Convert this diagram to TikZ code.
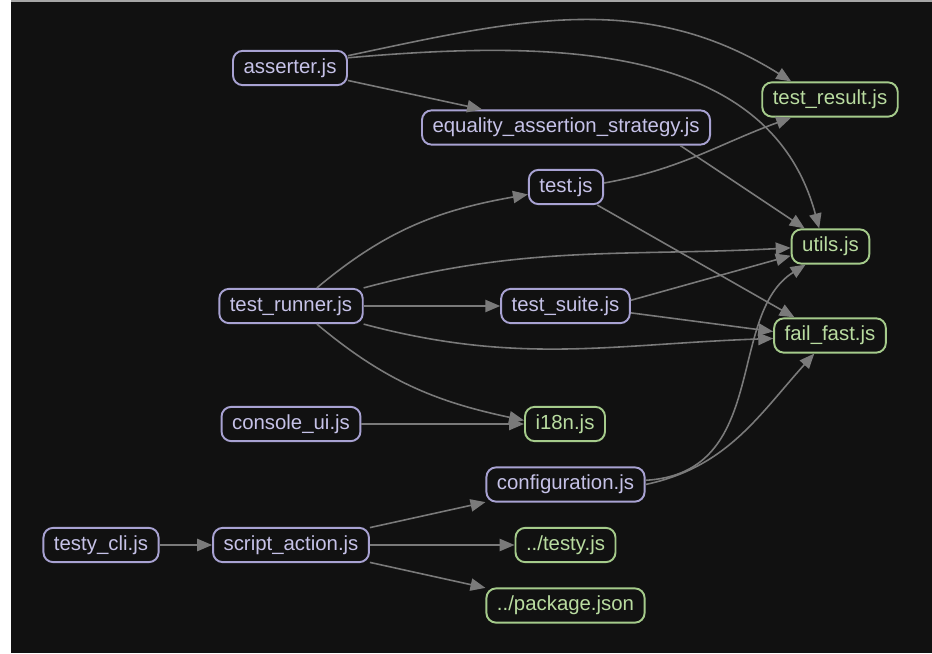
\documentclass[tikz,border=0pt]{standalone}
\usepackage{fontspec}
\setmainfont{Liberation Sans}
\usetikzlibrary{arrows.meta}
\definecolor{bgdark}{HTML}{111111}
\definecolor{modline}{HTML}{A8A2D2}
\definecolor{modtext}{HTML}{C6C2E8}
\definecolor{extline}{HTML}{A5CB8B}
\definecolor{exttext}{HTML}{B9DCA0}
\definecolor{edgegray}{HTML}{7A7A7A}

\begin{document}
\begin{tikzpicture}[x=0.02cm, y=0.02cm,
    module/.style={draw=modline, text=modtext, fill=bgdark, line width=1.1pt,
        rounded corners=5.5pt, inner xsep=6pt, inner ysep=0pt, minimum height=19.5pt,
        text height=8.6pt, text depth=2.4pt, font=\fontsize{11.6}{14}\selectfont},
    extern/.style={module, draw=extline, text=exttext},
    dep/.style={draw=edgegray, line width=0.9pt, -{Triangle[length=8.5pt,width=7pt]}}]
    % Background
    \useasboundingbox (0,0) rectangle (932,653);
    \fill[white] (0,0) rectangle (932,653);
    \fill[bgdark] (11,0) rectangle (932,653);
    \fill[gray!70] (11,651) rectangle (932,653);
    % Modules
    \node[module] (asserter)      at (290,585)   {asserter.js};
    \node[module] (equality)      at (566,525.5) {equality\_assertion\_strategy.js};
    \node[module] (test)          at (566,466)   {test.js};
    \node[module] (testrunner)    at (291,347)   {test\_runner.js};
    \node[module] (testsuite)     at (565.5,347) {test\_suite.js};
    \node[module] (consoleui)     at (291,229)   {console\_ui.js};
    \node[module] (configuration) at (565.5,168.5) {configuration.js};
    \node[module] (testycli)      at (101,108)   {testy\_cli.js};
    \node[module] (scriptaction)  at (291,108)   {script\_action.js};
    % Leaves
    \node[extern] (testresult)    at (830,553.5) {test\_result.js};
    \node[extern] (utils)         at (830.5,406.5) {utils.js};
    \node[extern] (failfast)      at (830,317.5) {fail\_fast.js};
    \node[extern] (ieighteen)     at (565,229)   {i18n.js};
    \node[extern] (testy)         at (565.5,108) {../testy.js};
    \node[extern] (package)       at (565.5,47.5) {../package.json};
    % Edges
    \draw[dep] (asserter.12) to[out=12, in=148] (testresult.155);
    \draw[dep] (asserter.10) to[out=5, in=105] (utils.122);
    \draw[dep] (asserter) -- (equality);
    \draw[dep] (equality.-9) -- (utils.145);
    \draw[dep] (test.6) to[out=10, in=200] (testresult.205);
    \draw[dep] (test.-30) -- (failfast.153);
    \draw[dep] (testrunner.35) to[out=40, in=190] (test.191);
    \draw[dep] (testrunner.14) to[out=15, in=183] (utils.182);
    \draw[dep] (testrunner) -- (testsuite);
    \draw[dep] (testrunner.-14) to[out=-15, in=182] (failfast.183);
    \draw[dep] (testrunner.-35) to[out=-40, in=168] (ieighteen.175);
    \draw[dep] (testsuite.5) -- (utils.193);
    \draw[dep] (testsuite.-6) -- (failfast.176);
    \draw[dep] (consoleui) -- (ieighteen);
    \draw[dep] (configuration.3) .. controls +(125,7) and +(-80,-50) .. (utils.216);
    \draw[dep] (configuration.0) to[out=12, in=228] (failfast.229);
    \draw[dep] (testycli) -- (scriptaction);
    \draw[dep] (scriptaction) -- (configuration);
    \draw[dep] (scriptaction) -- (testy);
    \draw[dep] (scriptaction) -- (package);
\end{tikzpicture}
\end{document}
